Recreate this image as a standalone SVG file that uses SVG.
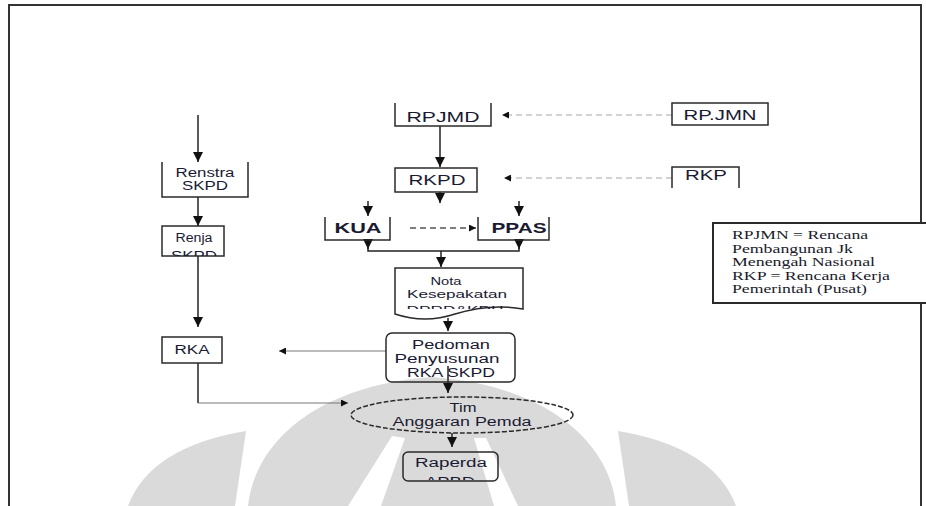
<svg xmlns="http://www.w3.org/2000/svg" width="926" height="506" viewBox="0 0 926 506">
<defs>
<style>
.wm{fill:#dadada;stroke:none}
.box{fill:none;stroke:#2a2a2a;stroke-width:1.5}
.t{font-family:"Liberation Sans",Arial,sans-serif;fill:#1a1a33;text-anchor:middle}
.s14{font-size:14px}
.s12{font-size:12px}
.s11{font-size:11px}
.b{font-weight:bold;font-size:15px}
.lg{font-family:"Liberation Serif","Times New Roman",serif;font-size:12px;fill:#1a1a2a}
.c{fill:none;stroke:#222;stroke-width:1.5}
.cg{fill:none;stroke:#777;stroke-width:1}
.dl{fill:none;stroke:#c4c4c4;stroke-width:1.3;stroke-dasharray:6,4}
.dd{fill:none;stroke:#555;stroke-width:1.5;stroke-dasharray:6,4}
</style>
<marker id="ah" viewBox="0 0 10 10" refX="10" refY="5" markerUnits="userSpaceOnUse" markerWidth="10" markerHeight="11" orient="auto"><path d="M0,0 L10,5 L0,10 Z" fill="#111"/></marker>
<marker id="as" viewBox="0 0 10 10" refX="10" refY="5" markerUnits="userSpaceOnUse" markerWidth="12" markerHeight="7" orient="auto"><path d="M0,0 L10,5 L0,10 Z" fill="#111"/></marker>
<clipPath id="cRenja"><rect x="160" y="226" width="66" height="30"/></clipPath>
<clipPath id="cNota"><rect x="393" y="268" width="132" height="41"/></clipPath>
<clipPath id="cRap"><rect x="401" y="452" width="99" height="28"/></clipPath>
</defs>
<rect width="926" height="506" fill="#fff"/>
<g id="watermark">
<path class="wm" d="M128,506 Q150,447 246,431 L235,506 Z"/>
<path class="wm" d="M736,506 Q714,447 618,431 L629,506 Z"/>
<path class="wm" d="M248,506 C255,440 320,385 432,377 C544,385 609,440 616,506 Z"/>
<path d="M348,506 L381,506 L405,438 L392,436 Z" fill="#fff"/>
<path d="M494,506 L518,506 L486,438 L474,438 Z" fill="#fff"/>
</g>
<path d="M9,506 V5 H921 V506" fill="none" stroke="#333" stroke-width="2"/>
<g id="connectors">
<path class="c" d="M198,115 V162" marker-end="url(#ah)"/>
<path class="c" d="M198,197 V226" marker-end="url(#ah)"/>
<path class="c" d="M198,256 V327" marker-end="url(#ah)"/>
<path class="c" d="M198,363 V403"/>
<path class="cg" d="M198,403 H348" marker-end="url(#as)"/>
<path class="cg" d="M386,351 H279" marker-end="url(#as)"/>
<path class="c" d="M440,126 V167" marker-end="url(#ah)"/>
<path class="c" d="M440,192 V203" marker-end="url(#ah)"/>
<path class="c" d="M368,201 V216" marker-end="url(#ah)"/>
<path class="c" d="M519,201 V216" marker-end="url(#ah)"/>
<path class="c" d="M368,240 V249" marker-end="url(#ah)"/>
<path class="c" d="M519,240 V249" marker-end="url(#ah)"/>
<path class="c" d="M368,248 V251 H519 V248"/>
<path class="c" d="M441,251 V267" marker-end="url(#ah)"/>
<path class="c" d="M448,318 V331" marker-end="url(#ah)"/>
<path class="c" d="M448,366 V393" marker-end="url(#ah)"/>
<path class="c" d="M452,433 V447" marker-end="url(#ah)"/>
<path class="dl" d="M672,115 H502" marker-end="url(#as)"/>
<path class="dl" d="M672,178 H504" marker-end="url(#as)"/>
<path class="dd" d="M410,228 H476" marker-end="url(#as)"/>
</g>
<g id="renstra">
<path class="box" d="M162,162 V197 H248 V162"/>
<text class="t s12" x="205" y="177" textLength="59" lengthAdjust="spacingAndGlyphs">Renstra</text>
<text class="t s12" x="205" y="190" textLength="46" lengthAdjust="spacingAndGlyphs">SKPD</text>
</g>
<g id="renja">
<rect class="box" x="162" y="226" width="62" height="30"/>
<text class="t s12" x="194" y="242" textLength="37" lengthAdjust="spacingAndGlyphs">Renja</text>
<text class="t s12" x="194" y="260" textLength="46" lengthAdjust="spacingAndGlyphs" clip-path="url(#cRenja)">SKPD</text>
</g>
<g id="rka">
<rect class="box" x="162" y="337" width="60" height="26"/>
<text class="t s12" x="192" y="354" textLength="35" lengthAdjust="spacingAndGlyphs">RKA</text>
</g>
<g id="rpjmd">
<path class="box" d="M395,103 V126 H491 V103"/>
<text class="t s14" x="443" y="122" textLength="73" lengthAdjust="spacingAndGlyphs">RPJMD</text>
</g>
<g id="rpjmn">
<rect class="box" x="672" y="103" width="96" height="22"/>
<text class="t s14" x="720" y="120" textLength="73" lengthAdjust="spacingAndGlyphs">RP.JMN</text>
</g>
<g id="rkpd">
<rect class="box" x="395" y="168" width="82" height="24"/>
<text class="t s14" x="437" y="185" textLength="57" lengthAdjust="spacingAndGlyphs">RKPD</text>
</g>
<g id="rkp">
<path class="box" d="M672,188 V167 H739 V188"/>
<text class="t s14" x="706" y="180" textLength="42" lengthAdjust="spacingAndGlyphs">RKP</text>
</g>
<g id="kua">
<path class="box" d="M325,217 V240 H390 V217"/>
<text class="t b" x="358" y="233" textLength="47" lengthAdjust="spacingAndGlyphs">KUA</text>
</g>
<g id="ppas">
<path class="box" d="M478,217 V240 H549 V217"/>
<text class="t b" x="519" y="233" textLength="55" lengthAdjust="spacingAndGlyphs">PPAS</text>
</g>
<g id="nota">
<path class="box" d="M395,268 H523 V309 Q490,303 455,314 Q425,324 395,314 Z"/>
<text class="t s11" x="446" y="285" textLength="31" lengthAdjust="spacingAndGlyphs">Nota</text>
<text class="t s11" x="457" y="298" textLength="100" lengthAdjust="spacingAndGlyphs">Kesepakatan</text>
<text class="t s11" x="455" y="314" textLength="97" lengthAdjust="spacingAndGlyphs" clip-path="url(#cNota)">DPRD&amp;KDH</text>
</g>
<g id="pedoman">
<rect class="box" x="386" y="333" width="129" height="49" rx="6"/>
<text class="t s12" x="451" y="349" textLength="78" lengthAdjust="spacingAndGlyphs">Pedoman</text>
<text class="t s12" x="447" y="363" textLength="105" lengthAdjust="spacingAndGlyphs">Penyusunan</text>
<text class="t s12" x="451" y="377" textLength="88" lengthAdjust="spacingAndGlyphs">RKA SKPD</text>
</g>
<g id="tim">
<ellipse cx="462" cy="415" rx="111" ry="18" fill="none" stroke="#2a2a2a" stroke-width="1.5" stroke-dasharray="5,2"/>
<text class="t s12" x="463" y="412" textLength="27" lengthAdjust="spacingAndGlyphs">Tim</text>
<text class="t s12" x="462" y="426" textLength="139" lengthAdjust="spacingAndGlyphs">Anggaran Pemda</text>
</g>
<g id="raperda">
<rect class="box" x="403" y="452" width="95" height="29" rx="5"/>
<text class="t s12" x="451" y="467" textLength="72" lengthAdjust="spacingAndGlyphs">Raperda</text>
<text class="t s12" x="450" y="486" textLength="50" lengthAdjust="spacingAndGlyphs" clip-path="url(#cRap)">APBD</text>
</g>
<g id="legend">
<rect x="713" y="223" width="220" height="80" fill="#fff" stroke="#2a2a2a" stroke-width="2"/>
<text class="lg" x="732" y="239" textLength="136" lengthAdjust="spacingAndGlyphs">RPJMN = Rencana</text>
<text class="lg" x="732" y="253" textLength="121" lengthAdjust="spacingAndGlyphs">Pembangunan Jk</text>
<text class="lg" x="732" y="266" textLength="143" lengthAdjust="spacingAndGlyphs">Menengah Nasional</text>
<text class="lg" x="732" y="280" textLength="158" lengthAdjust="spacingAndGlyphs">RKP = Rencana Kerja</text>
<text class="lg" x="732" y="293" textLength="135" lengthAdjust="spacingAndGlyphs">Pemerintah (Pusat)</text>
</g>
</svg>
